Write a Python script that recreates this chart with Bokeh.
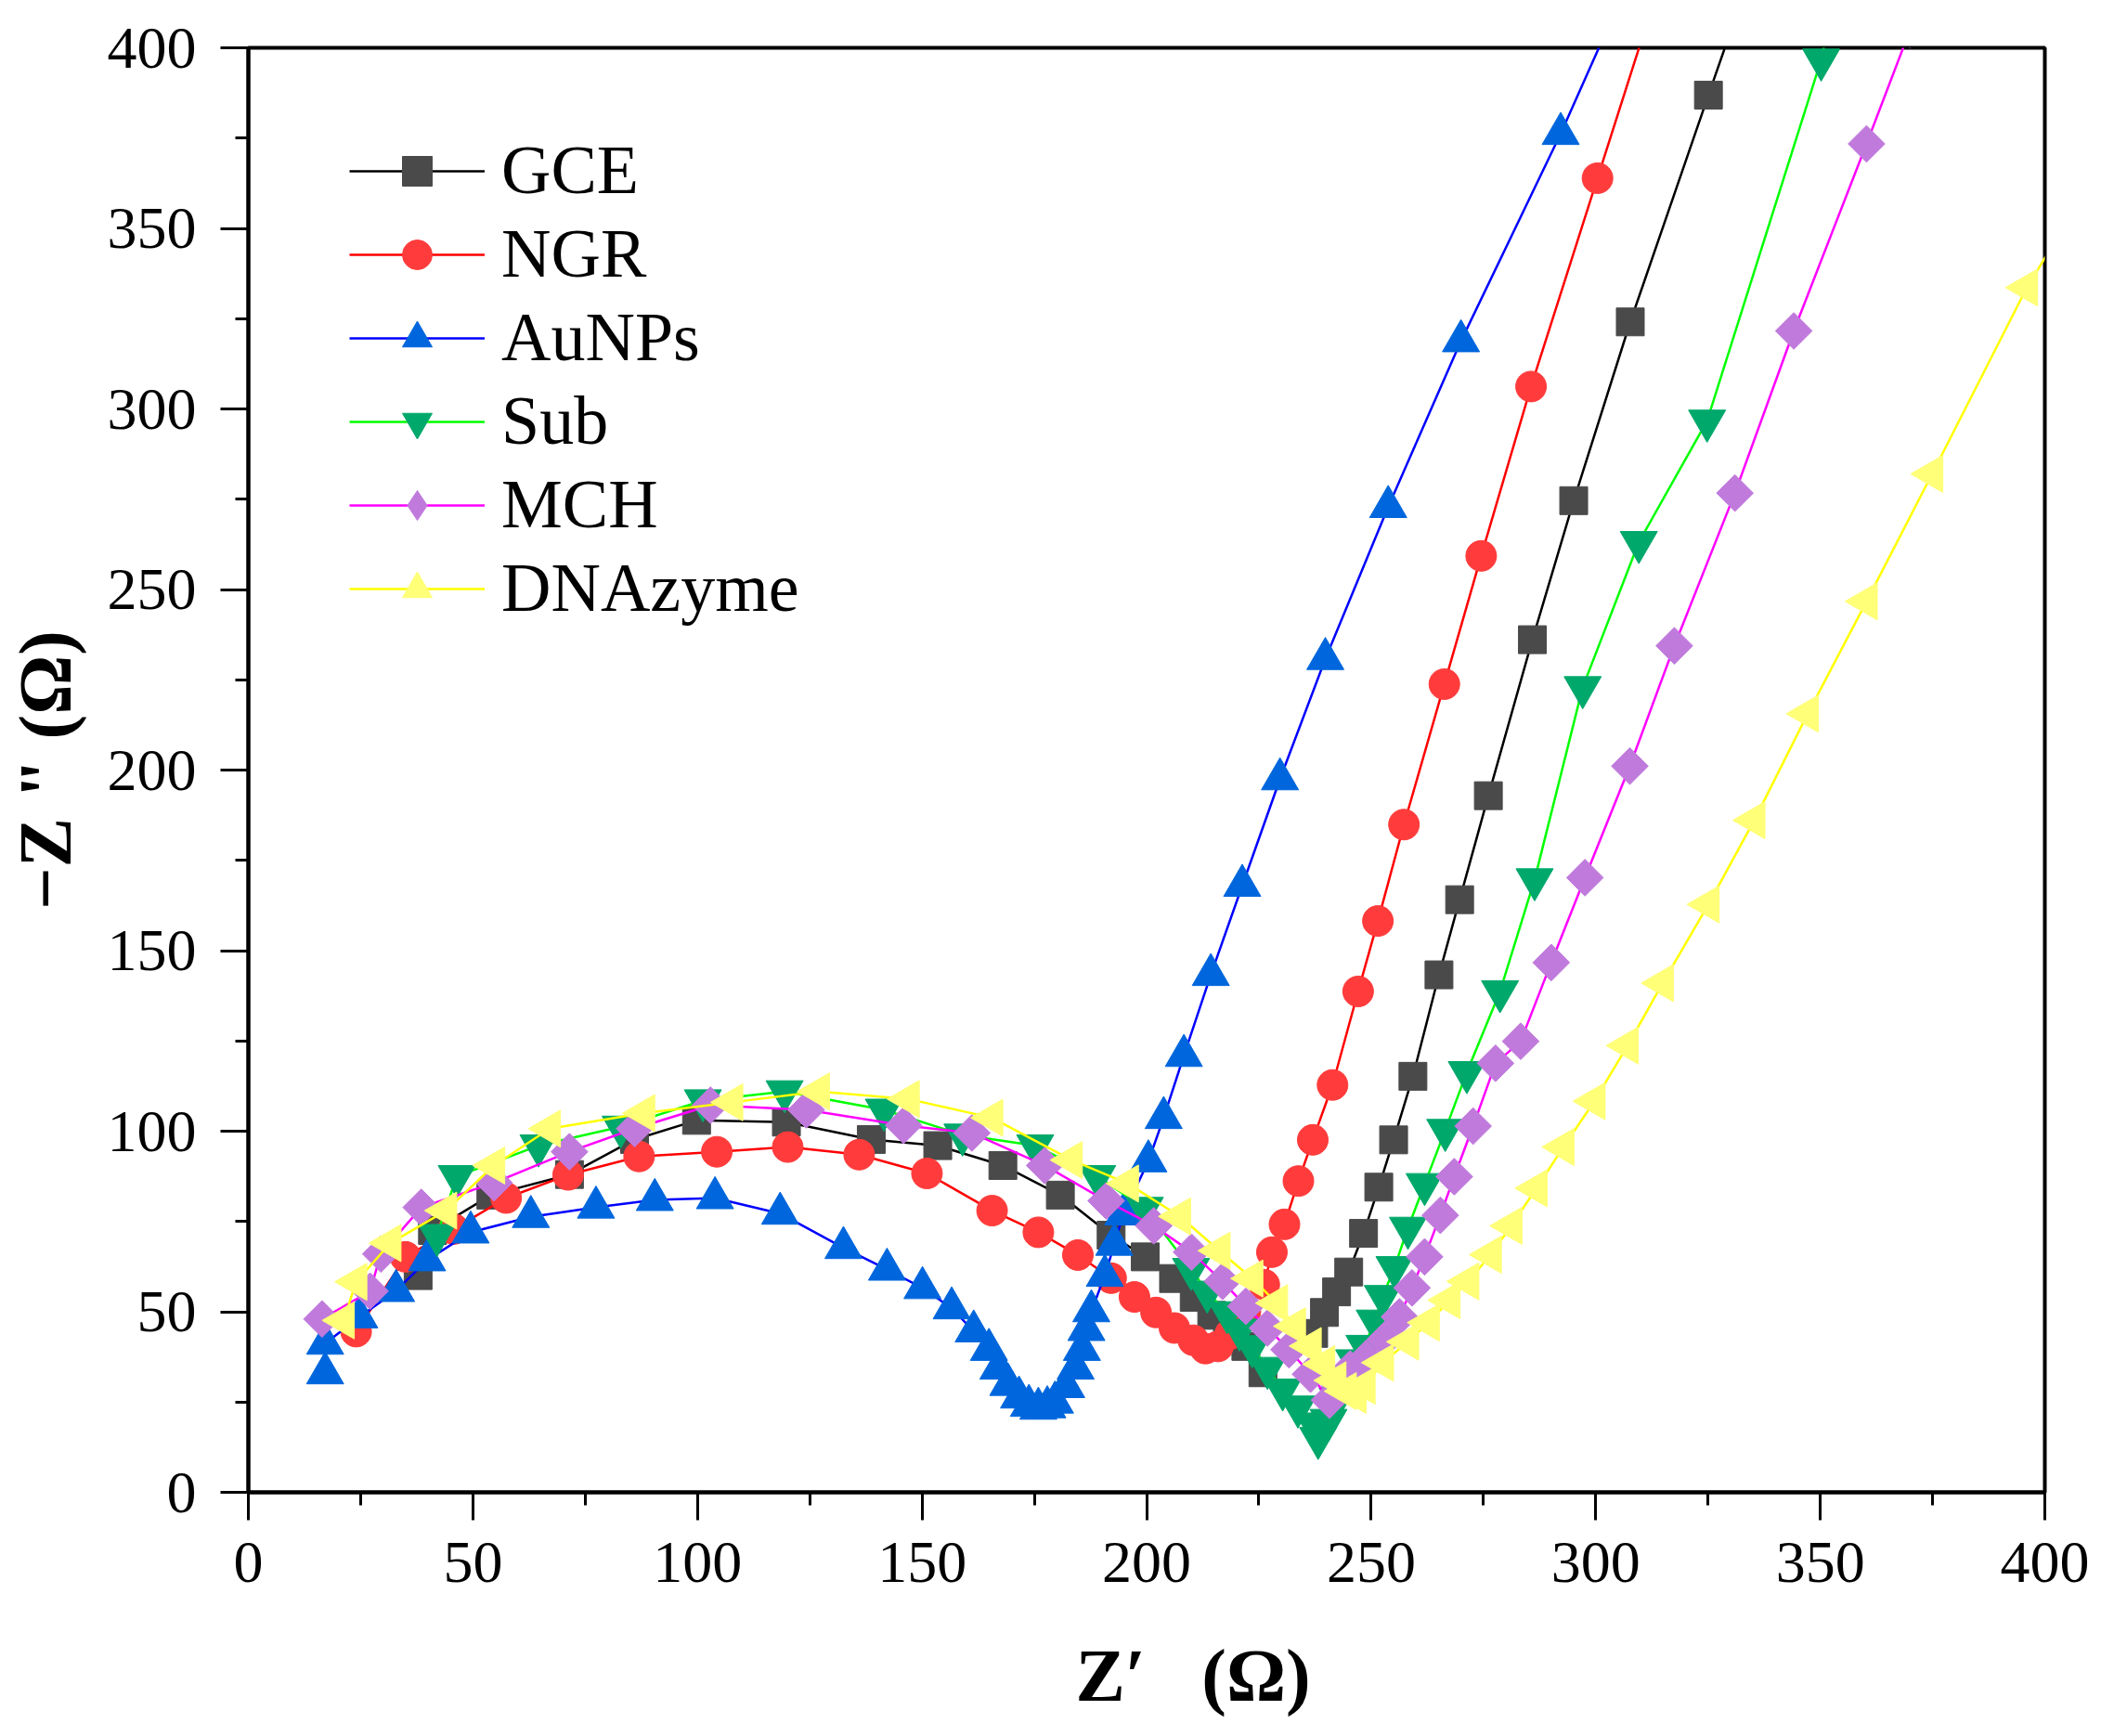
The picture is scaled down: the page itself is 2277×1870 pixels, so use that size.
import math
from bokeh.plotting import figure
from bokeh.models import (ColumnDataSource, Legend, LegendItem, Range1d, FixedTicker,
                          CDSView, IndexFilter)
from bokeh.embed import file_html
from bokeh.resources import INLINE

# ---------------- data ----------------
series_names = ["GCE", "NGR", "AuNPs", "Sub", "MCH", "DNAzyme"]

gce_x = [37.8, 41.0, 54.0, 71.5, 86.0, 99.8, 119.8, 138.7, 153.5, 168.0, 180.8, 192.1,
         199.7, 206.0, 210.6, 214.5, 218.0, 222.1, 225.9, 237.2, 239.6, 242.3, 245.0,
         248.3, 251.7, 255.0, 259.3, 265.1, 269.7, 276.1, 285.9, 295.1, 307.7, 325.1, 331.0]
gce_y = [60.0, 72.5, 82.3, 88.0, 97.7, 103.0, 102.5, 97.7, 96.0, 90.5, 82.3, 71.2,
         65.2, 59.2, 54.0, 49.0, 44.7, 40.4, 33.1, 44.0, 49.8, 55.5, 61.0,
         71.7, 84.5, 97.6, 115.2, 143.3, 164.1, 192.9, 236.1, 274.6, 324.1, 386.9, 408.0]

ngr_x = [24.0, 35.0, 45.7, 57.4, 71.2, 87.0, 104.3, 120.1, 136.0, 151.1, 165.6, 175.9,
         184.7, 192.1, 197.3, 202.1, 206.2, 210.4, 213.1, 215.9, 218.6, 222.0, 226.2,
         227.9, 230.7, 233.8, 237.0, 241.4, 247.1, 251.5, 257.3, 266.3, 274.5, 285.6,
         300.4, 313.5]
ngr_y = [44.5, 65.2, 72.9, 81.5, 87.9, 93.0, 94.3, 95.6, 93.5, 88.3, 78.0, 72.0,
         65.7, 59.3, 54.1, 49.8, 45.5, 42.1, 39.8, 40.4, 43.8, 50.0, 57.5,
         66.5, 74.2, 86.2, 97.6, 112.8, 138.7, 158.2, 184.9, 223.8, 259.3, 306.2,
         363.9, 415.0]

aunps_x = [17.1, 17.1, 24.7, 32.9, 39.8, 49.5, 62.9, 77.4, 90.5, 103.9, 118.4, 132.5,
           142.2, 150.1, 156.6, 161.5, 164.9, 167.0, 169.2, 171.6, 173.8, 175.9, 177.9,
           179.6, 182.1, 184.2, 185.6, 186.6, 187.7, 190.7, 192.8, 194.8, 200.4, 203.8,
           208.3, 214.3, 221.3, 229.7, 239.8, 253.8, 270.0, 292.2, 305.0]
aunps_y = [33.0, 41.2, 48.5, 55.8, 64.3, 72.0, 76.3, 78.9, 81.0, 81.5, 77.2, 67.7,
           61.7, 56.6, 51.0, 44.6, 39.5, 34.3, 29.8, 26.3, 24.0, 23.2, 23.6,
           24.9, 29.2, 34.3, 39.5, 45.0, 50.2, 60.0, 68.6, 77.0, 91.7, 103.7,
           120.9, 143.3, 168.0, 197.5, 230.8, 272.9, 318.8, 376.2, 412.0]

sub_x = [42.0, 46.4, 64.6, 82.9, 101.2, 119.4, 141.5, 159.0, 175.2, 189.0, 199.6, 209.9,
         213.5, 217.9, 220.7, 223.5, 226.9, 230.3, 233.7, 237.2, 238.2, 240.5, 242.5,
         244.3, 246.2, 248.5, 250.8, 252.6, 255.2, 258.2, 261.9, 266.5, 271.3, 278.7,
         286.4, 297.1, 309.6, 324.8, 350.2, 352.5]
sub_y = [71.2, 87.5, 96.0, 101.2, 108.5, 111.0, 105.9, 99.0, 96.0, 87.5, 78.7, 61.8,
         55.5, 49.8, 45.0, 40.4, 34.4, 28.4, 23.7, 19.0, 15.0, 20.0, 26.0,
         31.5, 36.5, 40.5, 47.5, 54.3, 62.3, 73.2, 85.3, 100.3, 116.3, 138.7,
         169.7, 222.9, 263.1, 296.7, 396.7, 410.0]

mch_x = [16.4, 27.1, 29.5, 38.5, 54.7, 71.5, 86.0, 102.9, 124.2, 145.9, 161.1, 177.3,
         191.0, 201.6, 210.0, 216.9, 222.1, 226.9, 231.7, 236.5, 240.7, 243.0, 245.3,
         248.9, 253.1, 256.3, 259.1, 261.9, 265.4, 268.5, 272.7, 277.7, 283.3, 290.1,
         297.6, 307.6, 317.5, 331.0, 344.1, 360.3, 370.0]
mch_y = [48.0, 55.7, 66.0, 78.9, 85.7, 94.3, 100.7, 107.2, 105.9, 101.6, 99.5, 90.5,
         80.7, 73.8, 66.5, 58.4, 51.5, 45.5, 39.5, 32.7, 25.5, 29.5, 34.2,
         37.1, 42.3, 48.6, 56.6, 65.2, 76.7, 87.4, 101.4, 118.8, 124.9, 146.7,
         170.2, 201.1, 234.4, 276.7, 321.6, 373.4, 405.0]

dna_x = [21.2, 24.0, 31.6, 44.0, 54.7, 67.1, 88.1, 107.7, 127.0, 147.0, 165.6, 183.3,
         195.8, 207.4, 216.2, 223.5, 229.0, 233.0, 236.5, 239.5, 242.0, 244.3, 246.5,
         248.5, 252.6, 258.2, 262.8, 267.4, 271.6, 276.6, 281.2, 286.8, 292.8, 299.7,
         307.1, 314.9, 325.1, 335.3, 347.2, 360.3, 374.9, 396.0, 405.0]
dna_y = [47.6, 58.3, 69.0, 78.0, 90.5, 100.7, 105.0, 108.0, 111.0, 108.9, 103.7, 92.0,
         85.5, 76.4, 66.9, 59.2, 52.4, 46.0, 40.5, 35.5, 31.0, 28.0, 27.0,
         29.5, 35.9, 41.7, 47.0, 53.2, 58.4, 65.8, 73.8, 84.2, 95.6, 108.3,
         123.7, 141.0, 162.8, 186.1, 215.6, 246.7, 282.0, 333.6, 352.0]

x_ticks = [0, 50, 100, 150, 200, 250, 300, 350, 400]
y_ticks = [0, 50, 100, 150, 200, 250, 300, 350, 400]

# ---------------- styles ----------------
styles = [
    # marker, angle, size, fill, line colour, legend marker
    ("square", 0.0, 30, "#4a4a4a", "#000000", None),
    ("circle", 0.0, 33, "#ff3b3b", "#ff0000", None),
    ("triangle", 0.0, 40, "#0066dd", "#0000ff", None),
    ("inverted_triangle", 0.0, 40, "#00a86b", "#00ff00", None),
    ("square", math.pi / 4, 28, "#c07adc", "#ff00ff", "diamond"),
    ("triangle", math.pi / 2, 40, "#ffff78", "#ffff00", None),
]
data = [(gce_x, gce_y), (ngr_x, ngr_y), (aunps_x, aunps_y),
        (sub_x, sub_y), (mch_x, mch_y), (dna_x, dna_y)]

FONT = "Liberation Serif"

p = figure(frame_width=1935, frame_height=1556,
           min_border_left=267, min_border_right=65,
           min_border_top=51, min_border_bottom=250,
           x_range=Range1d(0, 400), y_range=Range1d(0, 400),
           output_backend="svg", toolbar_location=None,
           background_fill_color="white", border_fill_color="white")

p.grid.visible = False
p.outline_line_color = "black"
p.outline_line_width = 4
p.outline_line_alpha = 1.0

for ax, ticks in ((p.xaxis[0], x_ticks), (p.yaxis[0], y_ticks)):
    ax.ticker = FixedTicker(ticks=ticks,
                            minor_ticks=[t + 25 for t in ticks[:-1]])
    ax.axis_line_width = 4
    ax.axis_line_color = "black"
    ax.major_tick_line_width = 3
    ax.minor_tick_line_width = 3
    ax.major_tick_in = 0
    ax.major_tick_out = 30
    ax.minor_tick_in = 0
    ax.minor_tick_out = 14
    ax.major_label_text_font = FONT
    ax.major_label_text_font_size = "64px"
    ax.major_label_text_color = "black"
    ax.axis_label_text_font = FONT
    ax.axis_label_text_font_style = "bold"
    ax.axis_label_text_font_size = "80px"
    ax.axis_label_text_color = "black"

p.xaxis[0].major_label_standoff = 24
p.yaxis[0].major_label_standoff = 26
p.xaxis[0].axis_label = "\u00a0\u00a0\u00a0\u00a0\u00a0Z\u2032\u00a0\u00a0\u00a0(\u03a9)"
p.yaxis[0].axis_label = "\u2212Z \" (\u03a9)"
p.xaxis[0].axis_label_standoff = 54
p.yaxis[0].axis_label_standoff = 20

items = []
for name, (xs, ys), (mk, ang, sz, fill, lc, lmk) in zip(series_names, data, styles):
    src = ColumnDataSource(dict(x=xs, y=ys))
    lr = p.line("x", "y", source=src, line_color=lc, line_width=2.5)
    if lmk is not None:
        # legend glyph (the legend draws markers unrotated); it shows only the
        # first data point, hidden under that point's rotated marker
        lg = p.scatter("x", "y", source=src, view=CDSView(filter=IndexFilter(indices=[0])),
                       marker=lmk, size=sz - 4, fill_color=fill, line_color=fill,
                       line_width=1)
    sr = p.scatter("x", "y", source=src, marker=mk, angle=ang, size=sz,
                   fill_color=fill, line_color=fill, line_width=1)
    if lmk is not None:
        items.append(LegendItem(label=name, renderers=[lr, lg]))
    else:
        items.append(LegendItem(label=name, renderers=[lr, sr]))

legend = Legend(items=items, location=(109, 931),
                glyph_width=146, glyph_height=80, label_height=80,
                label_standoff=18, spacing=5, padding=0, margin=0,
                label_text_font=FONT, label_text_font_size="74px",
                label_text_color="black",
                border_line_alpha=0, background_fill_alpha=0)
p.add_layout(legend, "center")

open("out.html", "w").write(file_html(p, INLINE))
